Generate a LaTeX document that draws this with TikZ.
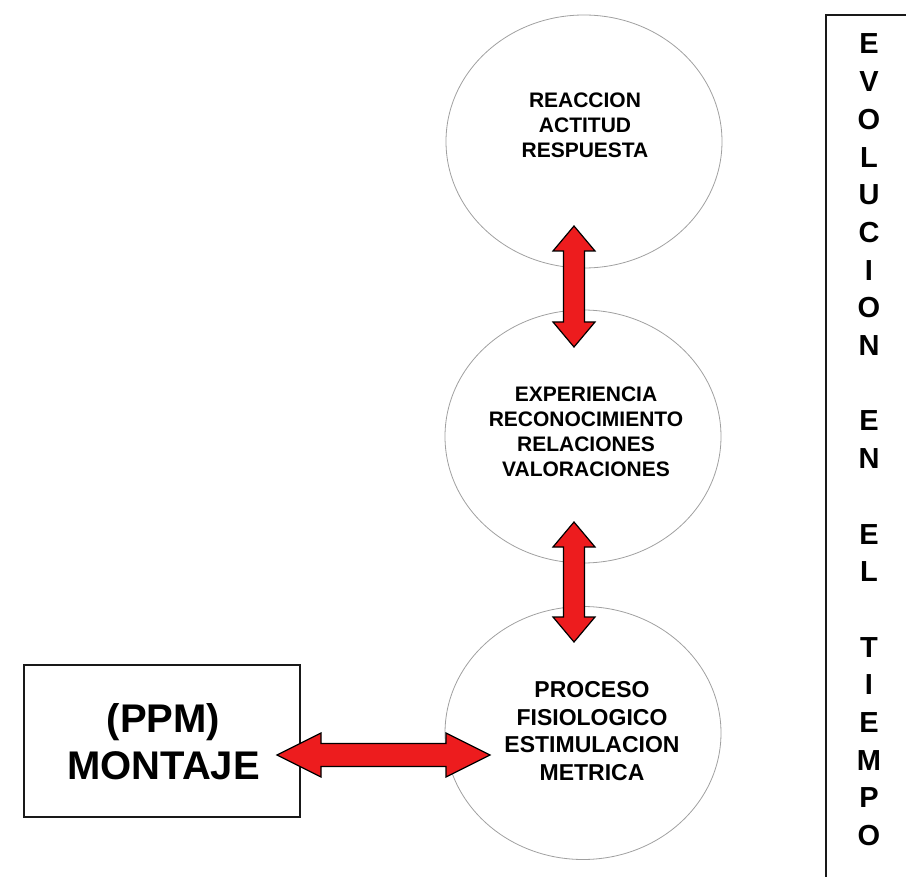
\documentclass[tikz,border=0pt]{standalone}
\usepackage{fontspec}
\setmainfont{Liberation Sans}
\usetikzlibrary{shapes.geometric,calc}
\definecolor{arrowred}{RGB}{237,28,30}
\definecolor{circgray}{RGB}{160,160,160}
\tikzset{
  circ/.style={ellipse, draw=circgray, line width=0.8pt, minimum width=276pt, minimum height=253pt, inner sep=0pt},
  bigarrow/.style={fill=arrowred, draw=black, line width=1.2pt, line join=miter},
  ctext/.style={font=\bfseries\fontsize{21}{25}\selectfont, align=center, inner sep=0pt},
  btext/.style={font=\bfseries\fontsize{23}{27.6}\selectfont, align=center, inner sep=0pt},
  boxtext/.style={font=\bfseries\fontsize{40}{47}\selectfont, align=center, inner sep=0pt},
  coltext/.style={font=\bfseries\fontsize{29}{37.7}\selectfont, align=center, inner sep=0pt},
  framebox/.style={draw=black!90, line width=1.8pt},
}
\newcommand\vdoublearrow[2]{%
  \filldraw[bigarrow] let \p1=(#1), \p2=(#2) in
    (\x1,\y1) -- (\x1+21pt,\y1-25pt) -- (\x1+10.5pt,\y1-25pt) -- (\x1+10.5pt,\y2+25pt)
    -- (\x1+21pt,\y2+25pt) -- (\x1,\y2) -- (\x1-21pt,\y2+25pt) -- (\x1-10.5pt,\y2+25pt)
    -- (\x1-10.5pt,\y1-25pt) -- (\x1-21pt,\y1-25pt) -- cycle;}
\newcommand\hdoublearrow[2]{%
  \filldraw[bigarrow] let \p1=(#1), \p2=(#2) in
    (\x1,\y1) -- (\x1+44pt,\y1+22pt) -- (\x1+44pt,\y1+11.5pt) -- (\x2-44pt,\y1+11.5pt)
    -- (\x2-44pt,\y1+22pt) -- (\x2,\y1) -- (\x2-44pt,\y1-22pt) -- (\x2-44pt,\y1-11.5pt)
    -- (\x1+44pt,\y1-11.5pt) -- (\x1+44pt,\y1-22pt) -- cycle;}
\begin{document}
\begin{tikzpicture}[x=1pt,y=-1pt]
\useasboundingbox (0,0) rectangle (906,877);
% circles
\node[circ] (top) at (584,141.5) {};
\node[circ] (mid) at (583,436.5) {};
\node[circ] (bot) at (583,733) {};
\node[ctext] (toptext) at (585,125) {REACCION\\ACTITUD\\RESPUESTA};
\node[ctext] (midtext) at (586,432) {EXPERIENCIA\\RECONOCIMIENTO\\RELACIONES\\VALORACIONES};
\node[btext] (bottext) at (592,731) {PROCESO\\FISIOLOGICO\\ESTIMULACION\\METRICA};
% left box
\node[framebox, minimum width=276pt, minimum height=152pt, inner sep=0pt] (box) at (162,741) {};
\node[boxtext] (boxtext) at (163.5,741.5) {(PPM)\\MONTAJE};
% right column
\draw[framebox] (908,15) -- (826,15) -- (826,879);
\node[coltext] (col) at (869,440) {E\\V\\O\\L\\U\\C\\I\\O\\N\\[37.7pt]E\\N\\[37.7pt]E\\L\\[37.7pt]T\\I\\E\\M\\P\\O};
% connectors
\coordinate (a1t) at (574,226);
\coordinate (a1b) at (574,347);
\coordinate (a2t) at (574,522);
\coordinate (a2b) at (574,642);
\coordinate (a3l) at (277,755);
\coordinate (a3r) at (490,755);
\vdoublearrow{a1t}{a1b}
\vdoublearrow{a2t}{a2b}
\hdoublearrow{a3l}{a3r}
\end{tikzpicture}
\end{document}
